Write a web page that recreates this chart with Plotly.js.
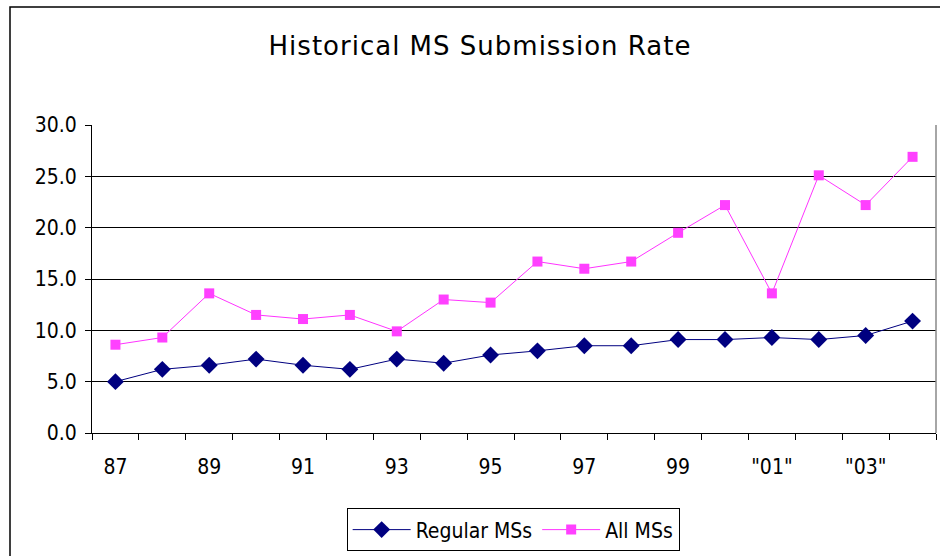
<!DOCTYPE html>
<html>
<head>
<meta charset="utf-8">
<script src="https://cdn.plot.ly/plotly-3.0.1.min.js"></script>
<style>
  html, body { margin: 0; padding: 0; background: #fff; }
  .gtitle { letter-spacing: 1px; }
</style>
</head>
<body>
<div id="chart" style="width:940px;height:556px;"></div>
<script>
const categories = ["87","88","89","90","91","92","93","94","95","96","97","98","99","00","01","02","03","04"];
const tickLabels = ["87","","89","","91","","93","","95","","97","","99","","\"01\"","","\"03\"",""];
const regularMSs = [5.0, 6.2, 6.6, 7.2, 6.6, 6.2, 7.2, 6.8, 7.6, 8.0, 8.5, 8.5, 9.1, 9.1, 9.3, 9.1, 9.5, 10.9];
const allMSs     = [8.6, 9.3, 13.6, 11.5, 11.1, 11.5, 9.9, 13.0, 12.7, 16.7, 16.0, 16.7, 19.5, 22.2, 13.6, 25.1, 22.2, 26.9];
const yTicks = [0, 5, 10, 15, 20, 25, 30];

const traces = [
  {
    x: categories, y: regularMSs, name: "Regular MSs", type: "scatter", mode: "lines+markers",
    line: {color: "#000080", width: 1},
    marker: {symbol: "diamond", size: 13, color: "#000080"}
  },
  {
    x: categories, y: allMSs, name: "All MSs", type: "scatter", mode: "lines+markers",
    line: {color: "#FF33FF", width: 1},
    marker: {symbol: "square", size: 10, color: "#FF40FF"}
  }
];

const font = "DejaVu Sans Condensed, DejaVu Sans, sans-serif";

const layout = {
  width: 940, height: 556,
  margin: {l: 92, r: 4, t: 125, b: 123},
  paper_bgcolor: "#fff", plot_bgcolor: "#fff",
  font: {family: font, size: 21, color: "#000"},
  title: {
    text: "Historical MS Submission Rate",
    font: {family: "DejaVu Sans, sans-serif", size: 26, color: "#000"},
    x: 480/940, xref: "container", xanchor: "center",
    y: 1 - 46/556, yref: "container", yanchor: "middle"
  },
  showlegend: true,
  legend: {
    orientation: "h", x: 0.499, xanchor: "center", y: -0.245, yanchor: "top",
    bordercolor: "#000", borderwidth: 1, bgcolor: "#fff",
    font: {family: font, size: 21, color: "#000"},
    itemwidth: 58, tracegroupgap: 0
  },
  xaxis: {
    type: "category",
    range: [-0.5, categories.length - 0.5], autorange: false,
    tickmode: "array", tickvals: categories, ticktext: tickLabels,
    tickson: "boundaries", tickangle: 0,
    ticks: "outside", ticklen: 6, tickcolor: "#000", tickwidth: 1,
    showline: true, linecolor: "#000", linewidth: 1,
    showgrid: false, zeroline: false,
    ticklabelstandoff: 15,
    tickfont: {family: font, size: 21, color: "#000"},
    fixedrange: true
  },
  yaxis: {
    range: [0, 30], autorange: false, tickmode: "array", tickvals: yTicks, tickformat: ".1f",
    ticks: "outside", ticklen: 6, tickcolor: "#000", tickwidth: 1,
    showline: true, linecolor: "#000", linewidth: 1,
    showgrid: true, gridcolor: "#000", gridwidth: 1,
    zeroline: false,
    ticklabelstandoff: 4,
    tickfont: {family: font, size: 21, color: "#000"},
    fixedrange: true
  },
  shapes: [
    {type: "line", xref: "paper", yref: "paper", x0: 1, x1: 1, y0: 0, y1: 1,
     line: {color: "#888", width: 1.5}},
    {type: "rect", xref: "paper", yref: "paper",
     x0: (10 - 92) / 844, x1: (960 - 92) / 844,
     y0: (433 - 600) / 308, y1: (433 - 7) / 308,
     line: {color: "#000", width: 1.5}, fillcolor: "rgba(0,0,0,0)", layer: "below"}
  ]
};

Plotly.newPlot("chart", traces, layout, {displayModeBar: false, staticPlot: true});
</script>
</body>
</html>
